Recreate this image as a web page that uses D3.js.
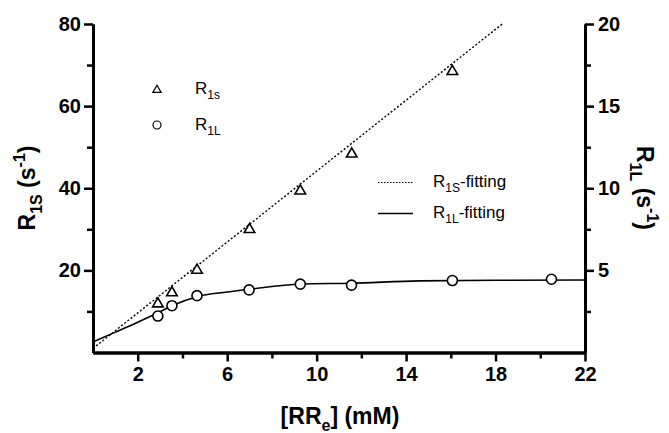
<!DOCTYPE html>
<html>
<head>
<meta charset="utf-8">
<script src="https://cdn.jsdelivr.net/npm/d3@7"></script>
<style>
  body { margin: 0; background: #fff; }
  svg { display: block; font-family: Arial, 'Liberation Sans', sans-serif; }
</style>
</head>
<body>
<div id="chart"></div>
<script>
(function () {
    'use strict'

    // concentrations (mM)
    var r1sX = [2.9, 3.53, 4.65, 7.0, 9.27, 11.57, 16.07]
    var r1sY = [12.1, 14.8, 20.3, 30.2, 39.6, 48.6, 68.7]      // left axis
    var r1lX = [2.9, 3.53, 4.65, 6.98, 9.27, 11.56, 16.07, 20.5]
    var r1lY = [2.22, 2.85, 3.46, 3.81, 4.16, 4.1, 4.38, 4.46]  // right axis

    // fitted curves
    var fitSX = [0, 18.3]
    var fitSY = [1.0, 80]
    var fitLX = [0, 1, 2, 2.9, 3.53, 4.65, 6, 7, 9.3, 11.5, 14.6, 18, 22]
    var fitLY = [0.65, 1.24, 1.84, 2.42, 2.85, 3.4, 3.68, 3.85, 4.17, 4.22, 4.36, 4.4, 4.41]

    var xMajor = [2, 6, 10, 14, 18, 22]
    var xMinor = [4, 8, 12, 16, 20]
    var yLMajor = [20, 40, 60, 80]
    var yLMinor = [10, 30, 50, 70]
    var yRMajor = [5, 10, 15, 20]
    var yRMinor = [2.5, 7.5, 12.5, 17.5]

    var width = 669,
        height = 433,
        left = 93,
        right = 585,
        top = 24,
        bottom = 352.5

    var svg = d3.select('#chart').append('svg')
        .attr('width', width)
        .attr('height', height)

    var x = d3.scaleLinear().domain([0, 22]).range([left, right])
    var yL = d3.scaleLinear().domain([0, 80]).range([bottom, top])
    var yR = d3.scaleLinear().domain([0, 20]).range([bottom, top])

    function zip(a, b) {
        return a.map(function (v, i) { return [v, b[i]] })
    }

    // fitting lines
    svg.append('path')
        .datum(zip(fitSX, fitSY))
        .attr('fill', 'none')
        .attr('stroke', '#000')
        .attr('stroke-width', 1.4)
        .attr('stroke-dasharray', '2,2')
        .attr('d', d3.line().x(function (d) { return x(d[0]) }).y(function (d) { return yL(d[1]) }))

    svg.append('path')
        .datum(zip(fitLX, fitLY))
        .attr('fill', 'none')
        .attr('stroke', '#000')
        .attr('stroke-width', 1.6)
        .attr('d', d3.line().curve(d3.curveMonotoneX)
            .x(function (d) { return x(d[0]) }).y(function (d) { return yR(d[1]) }))

    // markers
    var tri = d3.symbol().type(d3.symbolTriangle).size(48)
    svg.append('g').selectAll('path')
        .data(zip(r1sX, r1sY))
        .enter().append('path')
        .attr('d', tri)
        .attr('transform', function (d) { return 'translate(' + x(d[0]) + ',' + (yL(d[1]) + 1) + ')' })
        .attr('fill', '#fff')
        .attr('stroke', '#000')
        .attr('stroke-width', 1.6)

    svg.append('g').selectAll('circle')
        .data(zip(r1lX, r1lY))
        .enter().append('circle')
        .attr('cx', function (d) { return x(d[0]) })
        .attr('cy', function (d) { return yR(d[1]) })
        .attr('r', 5)
        .attr('fill', '#fff')
        .attr('stroke', '#000')
        .attr('stroke-width', 1.6)

    // axes
    function styleAxis(g) {
        g.select('.domain').attr('stroke-width', 3)
        g.selectAll('.tick line').attr('stroke-width', 2.5)
        g.selectAll('.tick text')
            .attr('font-size', 20)
            .attr('font-weight', 'bold')
            .attr('font-family', "Arial, 'Liberation Sans', sans-serif")
            .attr('fill', '#000')
    }

    svg.append('g')
        .attr('transform', 'translate(0,' + bottom + ')')
        .call(d3.axisBottom(x).tickValues(xMajor).tickSize(9).tickSizeOuter(0).tickPadding(5))
        .call(styleAxis)
    svg.append('g')
        .attr('transform', 'translate(0,' + bottom + ')')
        .call(d3.axisBottom(x).tickValues(xMinor).tickSize(6).tickSizeOuter(0).tickFormat(''))
        .call(styleAxis)

    svg.append('g')
        .attr('transform', 'translate(' + left + ',0)')
        .call(d3.axisLeft(yL).tickValues(yLMajor).tickSize(9).tickSizeOuter(0).tickPadding(3))
        .call(styleAxis)
    svg.append('g')
        .attr('transform', 'translate(' + left + ',0)')
        .call(d3.axisLeft(yL).tickValues(yLMinor).tickSize(6).tickSizeOuter(0).tickFormat(''))
        .call(styleAxis)

    svg.append('g')
        .attr('transform', 'translate(' + right + ',0)')
        .call(d3.axisRight(yR).tickValues(yRMajor).tickSize(9).tickSizeOuter(0).tickPadding(4))
        .call(styleAxis)
    svg.append('g')
        .attr('transform', 'translate(' + right + ',0)')
        .call(d3.axisRight(yR).tickValues(yRMinor).tickSize(6).tickSizeOuter(0).tickFormat(''))
        .call(styleAxis)

    // text with sub/superscripts: parts are [text, 'sub' | 'sup' | null]
    function richPx(t, parts, size, small) {
        var shift = 0
        parts.forEach(function (p) {
            var target = p[1] === 'sub' ? size * 0.3 : p[1] === 'sup' ? -size * 0.45 : 0
            t.append('tspan')
                .attr('font-size', p[1] ? small : size)
                .attr('dy', target - shift)
                .text(p[0])
            shift = target
        })
    }

    // axis titles
    var xt = svg.append('text')
        .attr('x', 340).attr('y', 424)
        .attr('text-anchor', 'middle')
        .attr('font-weight', 'bold')
    richPx(xt, [['[RR', null], ['e', 'sub'], ['] (mM)', null]], 23, 16)

    var lt = svg.append('text')
        .attr('transform', 'translate(35,188) rotate(-90)')
        .attr('text-anchor', 'middle')
        .attr('font-weight', 'bold')
    richPx(lt, [['R', null], ['1S', 'sub'], [' (s', null], ['-1', 'sup'], [')', null]], 23, 16)

    var rt = svg.append('text')
        .attr('transform', 'translate(637,188) rotate(90)')
        .attr('text-anchor', 'middle')
        .attr('font-weight', 'bold')
    richPx(rt, [['R', null], ['1L', 'sub'], [' (s', null], ['-1', 'sup'], [')', null]], 23, 16)

    // legends
    var leg = svg.append('g')
    leg.append('path')
        .attr('d', d3.symbol().type(d3.symbolTriangle).size(30))
        .attr('transform', 'translate(157,90)')
        .attr('fill', '#fff').attr('stroke', '#000').attr('stroke-width', 1.2)
    leg.append('circle')
        .attr('cx', 157).attr('cy', 125).attr('r', 4)
        .attr('fill', '#fff').attr('stroke', '#000').attr('stroke-width', 1.2)
    richPx(leg.append('text').attr('x', 195).attr('y', 94), [['R', null], ['1s', 'sub']], 17, 12)
    richPx(leg.append('text').attr('x', 195).attr('y', 130), [['R', null], ['1L', 'sub']], 17, 12)

    leg.append('line')
        .attr('x1', 378).attr('x2', 413).attr('y1', 182.5).attr('y2', 182.5)
        .attr('stroke', '#000').attr('stroke-width', 1.2).attr('stroke-dasharray', '1.5,1.5')
    leg.append('line')
        .attr('x1', 378).attr('x2', 413).attr('y1', 213.5).attr('y2', 213.5)
        .attr('stroke', '#000').attr('stroke-width', 1.4)
    richPx(leg.append('text').attr('x', 433).attr('y', 187),
        [['R', null], ['1S', 'sub'], ['-fitting', null]], 17, 12)
    richPx(leg.append('text').attr('x', 433).attr('y', 218),
        [['R', null], ['1L', 'sub'], ['-fitting', null]], 17, 12)
})()
</script>
</body>
</html>
